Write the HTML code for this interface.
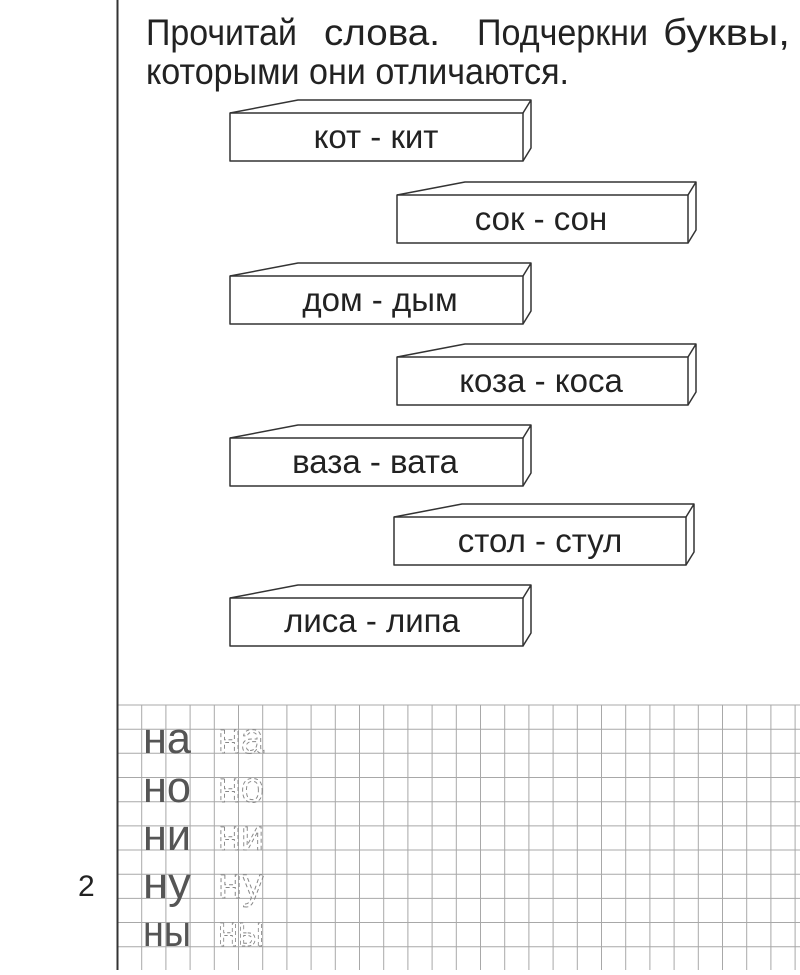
<!DOCTYPE html>
<html><head><meta charset="utf-8"><style>
html,body{margin:0;padding:0;background:#fff;}
svg{display:block;}
</style></head><body>
<svg width="800" height="975" viewBox="0 0 800 975" xmlns="http://www.w3.org/2000/svg" font-family="'Liberation Sans', sans-serif">
<rect width="800" height="975" fill="#fff"/>
<g stroke="#a8a8a8" stroke-width="1">
<line x1="117" y1="705" x2="800" y2="705"/>
<line x1="117" y1="729.2" x2="800" y2="729.2"/>
<line x1="117" y1="753.3" x2="800" y2="753.3"/>
<line x1="117" y1="777.5" x2="800" y2="777.5"/>
<line x1="117" y1="801.7" x2="800" y2="801.7"/>
<line x1="117" y1="825.9" x2="800" y2="825.9"/>
<line x1="117" y1="850" x2="800" y2="850"/>
<line x1="117" y1="874.2" x2="800" y2="874.2"/>
<line x1="117" y1="898.4" x2="800" y2="898.4"/>
<line x1="117" y1="922.5" x2="800" y2="922.5"/>
<line x1="117" y1="946.7" x2="800" y2="946.7"/>
</g>
<g stroke="#a8a8a8" stroke-width="1">
<line x1="141.7" y1="705" x2="141.7" y2="970"/>
<line x1="165.9" y1="705" x2="165.9" y2="970"/>
<line x1="190.1" y1="705" x2="190.1" y2="970"/>
<line x1="214.3" y1="705" x2="214.3" y2="970"/>
<line x1="238.5" y1="705" x2="238.5" y2="970"/>
<line x1="262.7" y1="705" x2="262.7" y2="970"/>
<line x1="286.9" y1="705" x2="286.9" y2="970"/>
<line x1="311.1" y1="705" x2="311.1" y2="970"/>
<line x1="335.3" y1="705" x2="335.3" y2="970"/>
<line x1="359.5" y1="705" x2="359.5" y2="970"/>
<line x1="383.7" y1="705" x2="383.7" y2="970"/>
<line x1="407.9" y1="705" x2="407.9" y2="970"/>
<line x1="432.1" y1="705" x2="432.1" y2="970"/>
<line x1="456.3" y1="705" x2="456.3" y2="970"/>
<line x1="480.5" y1="705" x2="480.5" y2="970"/>
<line x1="504.7" y1="705" x2="504.7" y2="970"/>
<line x1="528.9" y1="705" x2="528.9" y2="970"/>
<line x1="553.1" y1="705" x2="553.1" y2="970"/>
<line x1="577.3" y1="705" x2="577.3" y2="970"/>
<line x1="601.5" y1="705" x2="601.5" y2="970"/>
<line x1="625.7" y1="705" x2="625.7" y2="970"/>
<line x1="649.9" y1="705" x2="649.9" y2="970"/>
<line x1="674.1" y1="705" x2="674.1" y2="970"/>
<line x1="698.3" y1="705" x2="698.3" y2="970"/>
<line x1="722.5" y1="705" x2="722.5" y2="970"/>
<line x1="746.7" y1="705" x2="746.7" y2="970"/>
<line x1="770.9" y1="705" x2="770.9" y2="970"/>
<line x1="795.1" y1="705" x2="795.1" y2="970"/>
</g>
<line x1="117.5" y1="0" x2="117.5" y2="970" stroke="#333" stroke-width="2"/>
<g font-size="37" fill="#222">
<text x="146" y="45" textLength="151" lengthAdjust="spacingAndGlyphs">Прочитай</text>
<text x="324" y="45" textLength="116" lengthAdjust="spacingAndGlyphs">слова.</text>
<text x="477" y="45" textLength="171" lengthAdjust="spacingAndGlyphs">Подчеркни</text>
<text x="663" y="45" textLength="127" lengthAdjust="spacingAndGlyphs">буквы,</text>
<text x="146" y="84" textLength="423" lengthAdjust="spacingAndGlyphs">которыми они отличаются.</text>
</g>
<g fill="none" stroke="#333" stroke-width="1.5" stroke-linejoin="round">
<g transform="translate(230,113)"><rect x="0" y="0" width="293" height="48"/><path d="M0 0 L68 -13 L301 -13 L293 0 M301 -13 L301 35 L293 48"/></g>
<g transform="translate(397,195)"><rect x="0" y="0" width="291" height="48"/><path d="M0 0 L68 -13 L299 -13 L291 0 M299 -13 L299 35 L291 48"/></g>
<g transform="translate(230,276)"><rect x="0" y="0" width="293" height="48"/><path d="M0 0 L68 -13 L301 -13 L293 0 M301 -13 L301 35 L293 48"/></g>
<g transform="translate(397,357)"><rect x="0" y="0" width="291" height="48"/><path d="M0 0 L68 -13 L299 -13 L291 0 M299 -13 L299 35 L291 48"/></g>
<g transform="translate(230,438)"><rect x="0" y="0" width="293" height="48"/><path d="M0 0 L68 -13 L301 -13 L293 0 M301 -13 L301 35 L293 48"/></g>
<g transform="translate(394,517)"><rect x="0" y="0" width="292" height="48"/><path d="M0 0 L68 -13 L300 -13 L292 0 M300 -13 L300 35 L292 48"/></g>
<g transform="translate(230,598)"><rect x="0" y="0" width="293" height="48"/><path d="M0 0 L68 -13 L301 -13 L293 0 M301 -13 L301 35 L293 48"/></g>
</g>
<g font-size="33" fill="#222" text-anchor="middle">
<text x="376" y="148">кот - кит</text>
<text x="541" y="230">сок - сон</text>
<text x="380" y="311">дом - дым</text>
<text x="541" y="392">коза - коса</text>
<text x="375" y="473">ваза - вата</text>
<text x="540" y="552">стол - стул</text>
<text x="372" y="632">лиса - липа</text>
</g>
<g font-size="44" fill="#555">
<text x="143" y="753" textLength="48" lengthAdjust="spacingAndGlyphs">на</text>
<text x="143" y="802" textLength="48" lengthAdjust="spacingAndGlyphs">но</text>
<text x="143" y="850" textLength="48" lengthAdjust="spacingAndGlyphs">ни</text>
<text x="143" y="898" textLength="48" lengthAdjust="spacingAndGlyphs">ну</text>
<text x="143" y="946" textLength="48" lengthAdjust="spacingAndGlyphs">ны</text>
</g>
<g font-size="44" fill="none" stroke="#888" stroke-width="1" stroke-dasharray="4 3">
<text x="218" y="753" textLength="46" lengthAdjust="spacingAndGlyphs">на</text>
<text x="218" y="802" textLength="46" lengthAdjust="spacingAndGlyphs">но</text>
<text x="218" y="850" textLength="46" lengthAdjust="spacingAndGlyphs">ни</text>
<text x="218" y="898" textLength="46" lengthAdjust="spacingAndGlyphs">ну</text>
<text x="218" y="946" textLength="46" lengthAdjust="spacingAndGlyphs">ны</text>
</g>
<text x="78" y="896" font-size="30" fill="#222">2</text>
</svg>
</body></html>
